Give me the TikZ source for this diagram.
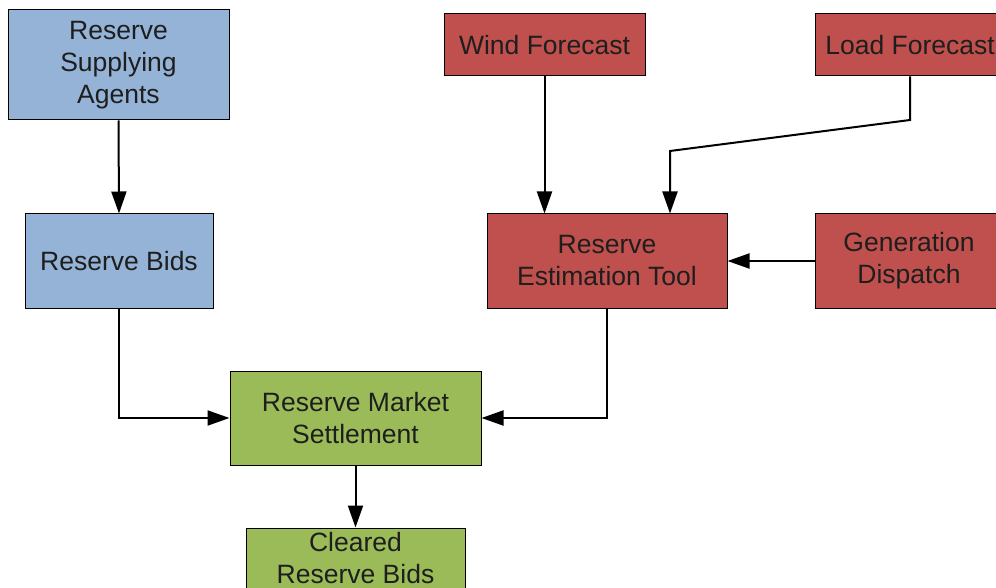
\documentclass[tikz,border=0pt]{standalone}
\usepackage{fontspec}
\setmainfont{Liberation Sans}
\usepackage{xcolor}
\usepackage{tikz}
\usetikzlibrary{
  arrows.meta,
  positioning
}
\definecolor{AgentBlue}{RGB}{149, 179, 215}
\definecolor{ForecastRed}{RGB}{192, 80, 77}
\definecolor{MarketGreen}{RGB}{155, 187, 89}
\definecolor{LabelGray}{RGB}{30, 30, 30}
\tikzset{
    block/.style={rectangle, draw=black, line width=1pt, inner sep=0pt, align=center,
        text=LabelGray, font=\fontsize{26.5}{32}\selectfont},
    blueblock/.style={block, fill=AgentBlue},
    redblock/.style={block, fill=ForecastRed},
    greenblock/.style={block, fill=MarketGreen},
    flow/.style={line width=2pt, -{Triangle[length=22pt, width=15pt]}}
}

\begin{document}
\begin{tikzpicture}[x=1pt, y=-1pt]
            \useasboundingbox (0,0) rectangle (996,588);
            \clip (0,0) rectangle (996,588);
            % supply side
            \node[blueblock, minimum width=221pt, minimum height=110pt] (agents) at (118.5,65) {Reserve\\Supplying\\Agents};
            \node[blueblock, minimum width=188pt, minimum height=94pt] (bids) at (119,261) {Reserve Bids};
            % estimation side
            \node[redblock, minimum width=201pt, minimum height=62pt] (wind) at (544.5,45) {Wind Forecast};
            \node[redblock, minimum width=190pt, minimum height=62pt] (load) at (910,45) {Load Forecast};
            \node[redblock, minimum width=240pt, minimum height=94pt] (estimation) at (607,261) {Reserve\\Estimation Tool};
            \node[redblock, minimum width=188pt, minimum height=94pt] (dispatch) at (909,261) {Generation\\Dispatch};
            % market
            \node[greenblock, minimum width=251pt, minimum height=94pt] (settlement) at (355.5,418) {Reserve Market\\Settlement};
            \node[greenblock, minimum width=219pt, minimum height=60pt] (cleared) at (355.5,558) {Cleared\\Reserve Bids};
            % bends of the load forecast line
            \coordinate (loadbend) at (910,120);
            \coordinate (toolbend) at (670,151);
            % connectors
            \draw[flow] (agents.south) -- (bids.north);
            \draw[flow] (bids.south) |- (settlement.west);
            \draw[flow] (wind.south) -- (wind.south |- estimation.north);
            \draw[flow] (load.south) -- (loadbend) -- (toolbend) -- (toolbend |- estimation.north);
            \draw[flow] (dispatch.west) -- (estimation.east);
            \draw[flow] (estimation.south) |- (settlement.east);
            \draw[flow] (settlement.south) -- (cleared.north);
        \end{tikzpicture}
\end{document}
